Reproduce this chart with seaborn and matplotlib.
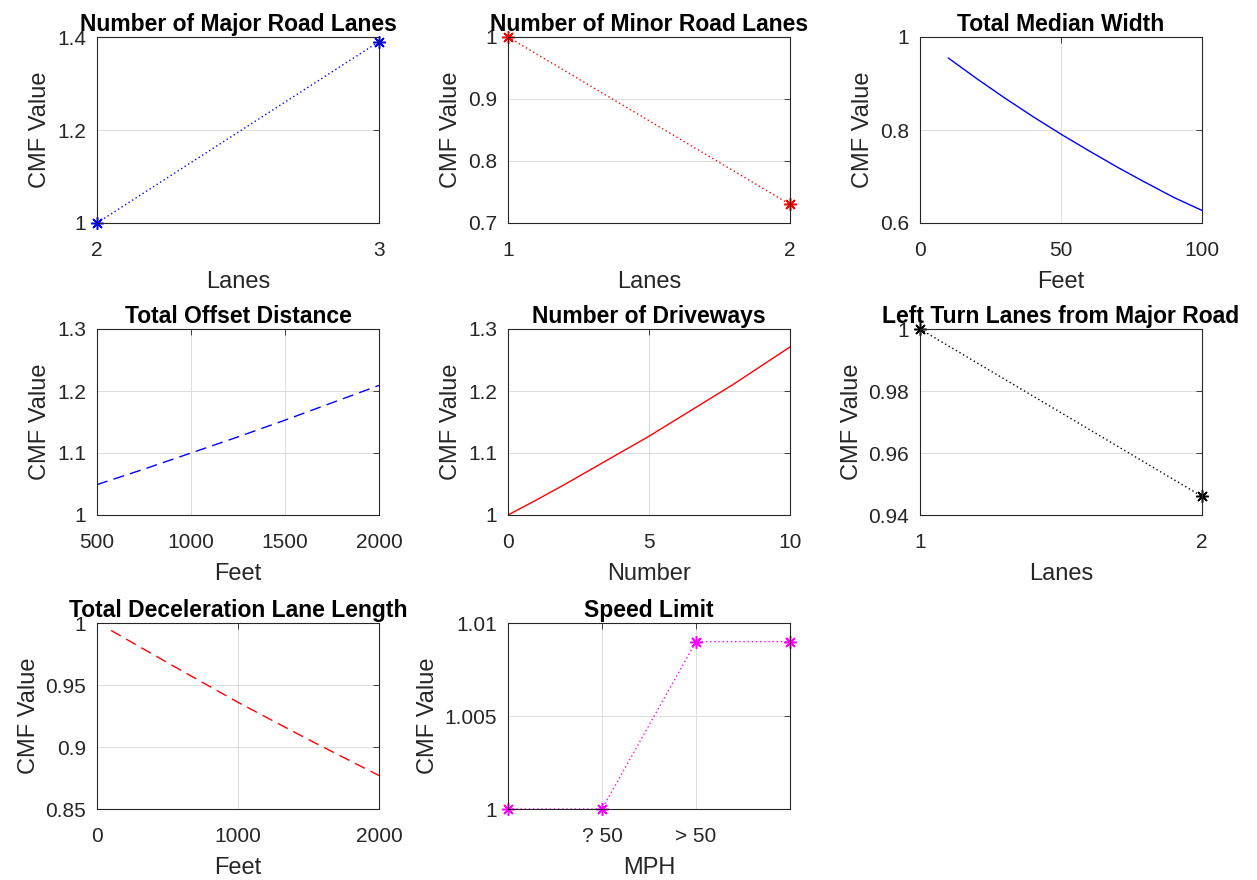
import numpy as np
import pandas as pd
import matplotlib
matplotlib.use('Agg')
import matplotlib.pyplot as plt
import seaborn as sns

sns.set_style('white')
plt.rcParams['font.family'] = ['Liberation Sans', 'DejaVu Sans']

# данные
major_lanes = [2, 3]
major_cmf = [1.0, 1.39]

minor_lanes = [1, 2]
minor_cmf = [1.0, 0.73]

median_feet = [10, 20, 30, 40, 50, 60, 70, 80, 90, 100]
median_cmf = [0.955, 0.911, 0.869, 0.829, 0.791, 0.755, 0.720, 0.687, 0.655, 0.627]

offset_feet = [500, 750, 1000, 1250, 1500, 1750, 2000]
offset_cmf = [1.049, 1.074, 1.100, 1.126, 1.153, 1.181, 1.209]

driveways = [0, 1, 2, 3, 4, 5, 6, 7, 8, 9, 10]
driveways_cmf = [1.0, 1.024, 1.049, 1.075, 1.101, 1.127, 1.155, 1.183, 1.211, 1.241, 1.271]

left_turn_lanes = [1, 2]
left_turn_cmf = [1.0, 0.946]

decel_feet = [100, 500, 1000, 1500, 2000]
decel_cmf = [0.994, 0.968, 0.936, 0.906, 0.877]

speed_pos = [1, 2, 3, 4]
speed_cmf = [1.0, 1.0, 1.009, 1.009]
speed_ticklabels = ['? 50', '> 50']

fig = plt.figure(figsize=(12.57, 8.8), dpi=100)

lefts = [97, 508, 920]
bottoms = [223, 515, 809]
W, H = 282, 186

def make_ax(row, col):
    return fig.add_axes([lefts[col] / 1257, (880 - bottoms[row]) / 880, W / 1257, H / 880])

dotted = (0, (1, 2))
dashed = (0, (8, 4.5))
asterisk = (8, 2, 0)

def draw_marked(ax, x, y, color):
    sns.lineplot(x=x, y=y, ax=ax, color=color, linestyle=dotted, linewidth=1,
                 marker=asterisk, markersize=9, markeredgewidth=1.1,
                 markeredgecolor=color, markerfacecolor=color, clip_on=False)

def style(ax, title, xlabel, xlim, xticks, ylim, yticks, xticklabels=None, yticklabels=None):
    ax.set_title(title, fontsize=16.5, fontweight='bold', color='black', pad=4)
    ax.set_xlabel(xlabel, fontsize=17, color='#262626', labelpad=8)
    ax.set_ylabel('CMF Value', fontsize=17, color='#262626', labelpad=4)
    ax.set_xlim(xlim)
    ax.set_ylim(ylim)
    ax.set_xticks(xticks)
    ax.set_yticks(yticks)
    if xticklabels is not None:
        ax.set_xticklabels(xticklabels)
    if yticklabels is not None:
        ax.set_yticklabels(yticklabels)
    ax.tick_params(direction='in', top=True, right=True, length=4, width=0.6,
                   labelsize=15, colors='#262626')
    ax.tick_params(axis='x', pad=13)
    ax.tick_params(axis='y', pad=8)
    ax.grid(True, color='#dcdcdc', linewidth=0.7)
    for s in ax.spines.values():
        s.set_color('#262626')
        s.set_linewidth(0.8)

# 1: major road lanes
ax = make_ax(0, 0)
draw_marked(ax, major_lanes, major_cmf, 'blue')
style(ax, 'Number of Major Road Lanes', 'Lanes', (2, 3), [2, 3], (1, 1.4), [1, 1.2, 1.4],
      yticklabels=['1', '1.2', '1.4'])

# 2: minor road lanes
ax = make_ax(0, 1)
draw_marked(ax, minor_lanes, minor_cmf, 'red')
style(ax, 'Number of Minor Road Lanes', 'Lanes', (1, 2), [1, 2], (0.7, 1), [0.7, 0.8, 0.9, 1],
      yticklabels=['0.7', '0.8', '0.9', '1'])

# 3: median width
ax = make_ax(0, 2)
sns.lineplot(x=median_feet, y=median_cmf, ax=ax, color='blue', linewidth=1)
style(ax, 'Total Median Width', 'Feet', (0, 100), [0, 50, 100], (0.6, 1), [0.6, 0.8, 1],
      yticklabels=['0.6', '0.8', '1'])

# 4: offset distance
ax = make_ax(1, 0)
sns.lineplot(x=offset_feet, y=offset_cmf, ax=ax, color='blue', linewidth=1, linestyle=dashed)
style(ax, 'Total Offset Distance', 'Feet', (500, 2000), [500, 1000, 1500, 2000], (1, 1.3),
      [1, 1.1, 1.2, 1.3], yticklabels=['1', '1.1', '1.2', '1.3'])

# 5: driveways
ax = make_ax(1, 1)
sns.lineplot(x=driveways, y=driveways_cmf, ax=ax, color='red', linewidth=1)
style(ax, 'Number of Driveways', 'Number', (0, 10), [0, 5, 10], (1, 1.3),
      [1, 1.1, 1.2, 1.3], yticklabels=['1', '1.1', '1.2', '1.3'])

# 6: left turn lanes
ax = make_ax(1, 2)
draw_marked(ax, left_turn_lanes, left_turn_cmf, 'black')
style(ax, 'Left Turn Lanes from Major Road', 'Lanes', (1, 2), [1, 2], (0.94, 1),
      [0.94, 0.96, 0.98, 1], yticklabels=['0.94', '0.96', '0.98', '1'])

# 7: deceleration lane
ax = make_ax(2, 0)
sns.lineplot(x=decel_feet, y=decel_cmf, ax=ax, color='red', linewidth=1, linestyle=dashed)
style(ax, 'Total Deceleration Lane Length', 'Feet', (0, 2000), [0, 1000, 2000], (0.85, 1),
      [0.85, 0.9, 0.95, 1], yticklabels=['0.85', '0.9', '0.95', '1'])

# 8: speed limit
ax = make_ax(2, 1)
draw_marked(ax, speed_pos, speed_cmf, 'magenta')
style(ax, 'Speed Limit', 'MPH', (1, 4), [2, 3], (1, 1.01), [1, 1.005, 1.01],
      xticklabels=speed_ticklabels, yticklabels=['1', '1.005', '1.01'])

plt.savefig('out.png', dpi=100)
